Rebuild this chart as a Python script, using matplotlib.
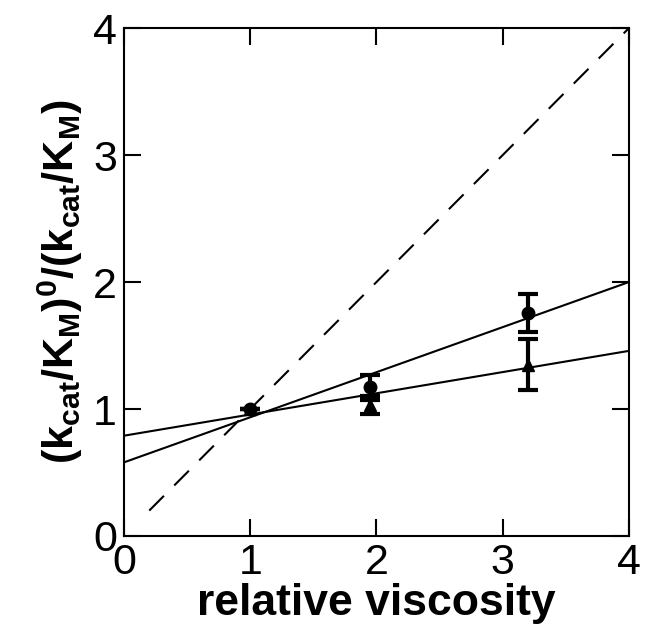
import matplotlib
matplotlib.use("Agg")
import matplotlib.pyplot as plt
import numpy as np

plt.rcParams['font.family'] = ['Liberation Sans', 'DejaVu Sans']
plt.rcParams['mathtext.fontset'] = 'custom'
plt.rcParams['mathtext.rm'] = 'Liberation Sans:bold'
plt.rcParams['mathtext.bf'] = 'Liberation Sans:bold'
plt.rcParams['mathtext.it'] = 'Liberation Sans:bold'

# data
x_circle = [1.0, 1.95, 3.2]
y_circle = [1.0, 1.17, 1.76]
e_circle = [0.0, 0.10, 0.15]
x_tri = [1.0, 1.95, 3.2]
y_tri = [1.0, 1.03, 1.35]
e_tri = [0.0, 0.07, 0.20]
fit_circle = (0.355, 0.58)   # slope, intercept
fit_tri = (0.167, 0.79)
diag_x = [0.2, 4.0]
ticks = [0, 1, 2, 3, 4]

fig = plt.figure(figsize=(6.51, 6.26), dpi=100)
ax = fig.add_axes([0.1905, 0.1438, 0.7755, 0.8112])

xx = np.array([0, 4])
ax.plot(xx, fit_circle[0] * xx + fit_circle[1], color='black', lw=1.5)
ax.plot(xx, fit_tri[0] * xx + fit_tri[1], color='black', lw=1.5)
ax.plot(diag_x, diag_x, color='black', lw=1.5, dashes=(10, 7))

ax.errorbar(x_circle, y_circle, yerr=e_circle, fmt='o', color='black', ms=9,
            elinewidth=3, capsize=7, capthick=3)
ax.errorbar(x_tri, y_tri, yerr=e_tri, fmt='^', color='black', ms=8,
            elinewidth=3, capsize=7, capthick=3)

ax.set_xlim(0, 4)
ax.set_ylim(0, 4)
ax.set_xticks(ticks)
ax.set_yticks(ticks)
ax.tick_params(direction='in', length=12, width=1.5, top=True, right=True,
               labelsize=31, pad=5)
for lab in ax.get_xticklabels() + ax.get_yticklabels():
    lab.set_family(['Liberation Sans Narrow', 'Liberation Sans'])
for s in ax.spines.values():
    s.set_linewidth(1.5)

ax.set_xlabel('relative viscosity', fontsize=32, fontweight='bold', labelpad=0)
ax.set_ylabel(r'$\mathbf{(k_{cat}/K_M)^0/(k_{cat}/K_M)}$', fontsize=31, labelpad=6)

fig.savefig('out.png', dpi=100)
